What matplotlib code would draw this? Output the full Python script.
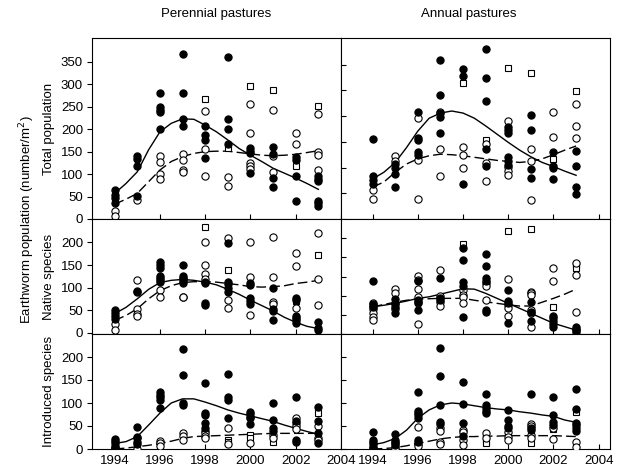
import matplotlib
matplotlib.use("Agg")
import matplotlib.pyplot as plt

plt.rcParams['font.family'] = ['Liberation Sans', 'DejaVu Sans']
plt.rcParams['font.size'] = 9.5

years = [1994, 1995, 1996, 1997, 1998, 1999, 2000, 2001, 2002, 2003]
curve_x = [1994, 1994.5, 1995, 1995.5, 1996, 1996.5, 1997, 1997.5, 1998, 1998.5,
           1999, 1999.5, 2000, 2000.5, 2001, 2001.5, 2002, 2002.5, 2003]

# ---- Total population, perennial ----
tl_filled = [[65, 54, 46, 35], [140, 133, 118, 52], [280, 250, 243, 238, 201], [367, 281, 222, 208],
             [208, 188, 175, 135], [361, 222, 200, 166], [158, 152, 146, 103], [161, 145, 91, 72],
             [139, 131, 96, 39], [95, 90, 84, 40, 35, 30]]
tl_open = [[18, 7], [42], [140, 126, 101, 90], [144, 131, 109, 104], [240, 156, 95], [94, 74],
           [256, 192, 124, 117, 112], [242, 140, 104], [191, 168], [234, 150, 142, 110]]
tl_square = [[], [], [], [], [267], [157], [297], [287], [117], [252]]
tl_solid = [57, 79, 105, 154, 194, 213, 223, 222, 209, 194, 176, 157, 142, 128, 113, 102, 91, 79, 66]
tl_dashed = [33, 44, 57, 83, 109, 128, 139, 146, 150, 151, 151, 148, 145, 142, 141, 142, 144, 148, 152]

# ---- Total population, annual ----
tr_filled = [[155, 84, 76, 68], [106, 100, 88, 63], [208, 158, 153, 131, 125], [309, 242, 206, 198, 168],
             [291, 279, 69], [330, 274, 229, 136, 104], [179, 174, 168, 120, 113, 105], [203, 173, 97, 79],
             [130, 104, 100, 77], [133, 104, 63, 48]]
tr_open = [[56, 38], [123, 112], [197, 115, 39], [208, 137, 83], [140, 124, 99], [146, 109, 73],
           [190, 101, 94, 85], [136, 113, 37], [208, 160], [224, 181, 157]]
tr_square = [[], [], [], [], [264], [154], [293], [283], [117], [248]]
tr_solid = [78, 91, 110, 139, 171, 196, 206, 210, 206, 196, 181, 165, 149, 134, 121, 110, 102, 93, 85]
tr_dashed = [62, 72, 91, 107, 117, 123, 126, 125, 123, 120, 117, 114, 112, 110, 112, 117, 125, 134, 142]

# ---- Native species, perennial ----
ml_filled = [[50, 44, 37, 30], [92, 90], [157, 150, 143, 126, 122, 117, 112], [149, 126, 120, 115, 110],
             [113, 109, 65, 62], [199, 113, 107, 100, 91], [109, 106, 77, 71, 64], [100, 53, 47, 29],
             [77, 72, 38, 33, 27, 22], [24, 10, 5]]
ml_open = [[20, 6], [117, 53, 42, 36], [94, 80], [121, 80, 78], [200, 150, 129, 118], [210, 72, 54],
           [201, 123, 40], [213, 123, 69, 64], [177, 147, 55], [222, 118, 62]]
ml_square = [[], [], [], [], [235], [138], [], [], [71], [173]]
ml_solid = [42, 56, 75, 96, 111, 116, 118, 116, 112, 106, 96, 85, 72, 60, 48, 34, 23, 14, 9]
ml_dashed = [27, 38, 53, 75, 93, 104, 111, 113, 113, 112, 109, 106, 102, 101, 102, 104, 109, 112, 116]

# ---- Native species, annual ----
mr_filled = [[138, 78, 70], [91, 82, 70, 54], [138, 89, 84, 63], [145, 93, 88], [224, 193, 135, 124, 45],
             [210, 178, 145, 138, 63, 58], [115, 86, 80, 28], [83, 57, 34], [48, 41, 34, 25, 19],
             [19, 14, 10, 6]]
mr_open = [[82, 73, 65, 56, 45, 37], [117, 106, 78, 66], [152, 141, 117, 97, 80, 25], [167, 100, 84, 72],
           [115, 102, 97, 80], [132, 124, 89], [144, 76, 67, 48], [110, 106, 101, 63, 54, 17],
           [173, 138], [185, 154, 58]]
mr_square = [[], [], [], [], [234], [135], [269], [273], [71], [180, 172]]
mr_solid = [71, 75, 80, 86, 93, 97, 104, 111, 118, 117, 106, 93, 80, 67, 54, 41, 28, 19, 10]
mr_dashed = [71, 77, 83, 88, 91, 92, 93, 93, 93, 88, 84, 80, 76, 73, 73, 83, 93, 104, 117]

# ---- Introduced species, perennial ----
bl_filled = [[22, 17, 12, 7, 3], [47, 27, 23, 15, 10], [125, 118, 114, 107, 89], [218, 161, 100, 95],
             [143, 78, 73, 56, 45], [163, 112, 107, 67], [80, 76, 70, 54], [100, 63, 45, 39],
             [112, 60, 20, 15], [92, 60, 34, 12]]
bl_open = [[2, 0], [1], [17, 12, 7], [34, 29, 20], [39, 34, 29, 25], [45, 10], [67, 14], [31, 25],
           [67, 56, 49, 44], [49, 25, 20]]
bl_square = [[], [], [], [], [], [20, 15], [31, 25], [15], [51], [78]]
bl_solid = [12, 16, 27, 52, 78, 100, 109, 109, 102, 94, 85, 78, 72, 66, 60, 52, 45, 38, 32]
bl_dashed = [0, 2, 5, 8, 12, 17, 23, 27, 28, 29, 30, 31, 32, 33, 34, 34, 34, 34, 34]

# ---- Introduced species, annual ----
br_filled = [[36, 20, 15, 10, 5, 2], [32, 20, 16, 12, 9], [123, 83, 78, 73, 68, 20, 15],
             [220, 158, 95, 58, 54], [146, 98, 56, 29], [119, 96, 89, 83, 78], [85, 63, 49, 45],
             [119, 45, 41], [112, 73, 58, 52], [130, 87, 56, 52, 45, 39]]
br_open = [[], [5, 1], [47, 10, 7], [45, 39, 15, 10], [42, 36, 20, 9], [34, 23], [38, 27, 20],
           [54, 49, 31, 23], [45, 22], [16, 5]]
br_square = [[], [], [], [], [32, 23], [17, 14], [32], [12], [49, 44], [80]]
br_solid = [9, 14, 23, 41, 67, 85, 96, 100, 98, 94, 90, 87, 85, 81, 78, 74, 71, 63, 58]
br_dashed = [0, 1, 3, 7, 12, 17, 22, 25, 27, 27, 28, 28, 29, 29, 29, 29, 29, 28, 27]

col_titles = ["Perennial pastures", "Annual pastures"]
row_labels = ["Total population", "Native species", "Introduced species"]
ylabel = "Earthworm population (number/m$^2$)"
xticks = [1994, 1996, 1998, 2000, 2002, 2004]

W, H = 625, 470
fig = plt.figure(figsize=(W / 100, H / 100), dpi=100)

def fx(px):
    return px / W

def fy(py):
    return 1 - py / H

col_px = [(92, 341), (341, 610)]
row_px = [(38, 219), (219, 334), (334, 449)]
xlims = [(1993, 2004), (1992.6, 2004.5)]
ylims = [[(0, 403), (0, 352)], [(-3, 252), (0, 300)], [(0, 250), (0, 250)]]
yticks = [[[0, 50, 100, 150, 200, 250, 300, 350], [0, 50, 100, 150, 200, 250, 300]],
          [[0, 50, 100, 150, 200], [0, 50, 100, 150, 200, 250]],
          [[0, 50, 100, 150, 200], [0, 50, 100, 150, 200]]]

panels = [[(tl_filled, tl_open, tl_square, tl_solid, tl_dashed),
           (tr_filled, tr_open, tr_square, tr_solid, tr_dashed)],
          [(ml_filled, ml_open, ml_square, ml_solid, ml_dashed),
           (mr_filled, mr_open, mr_square, mr_solid, mr_dashed)],
          [(bl_filled, bl_open, bl_square, bl_solid, bl_dashed),
           (br_filled, br_open, br_square, br_solid, br_dashed)]]

def expand(groups):
    xs, ys = [], []
    for yr, vals in zip(years, groups):
        for v in vals:
            xs.append(yr)
            ys.append(v)
    return xs, ys

for r in range(3):
    for c in range(2):
        x0, x1 = col_px[c]
        y0, y1 = row_px[r]
        ax = fig.add_axes([fx(x0), fy(y1), fx(x1) - fx(x0), (y1 - y0) / H])
        filled, opn, sq, solid, dashed = panels[r][c]
        ax.plot(curve_x, solid, color='black', lw=1.0, zorder=2)
        ax.plot(curve_x, dashed, color='black', lw=1.0, dashes=(7, 3), zorder=2)
        xs, ys = expand(sq)
        ax.plot(xs, ys, ls='none', marker='s', ms=4, mfc='white', mec='black', mew=0.8, zorder=3)
        xs, ys = expand(opn)
        ax.plot(xs, ys, ls='none', marker='o', ms=5.2, mfc='white', mec='black', mew=0.8, zorder=3)
        xs, ys = expand(filled)
        ax.plot(xs, ys, ls='none', marker='o', ms=5.2, mfc='black', mec='black', mew=0.8, zorder=4)
        ax.set_xlim(*xlims[c])
        ax.set_ylim(*ylims[r][c])
        ax.set_xticks(xticks)
        ax.set_yticks(yticks[r][c])
        for s in ax.spines.values():
            s.set_linewidth(0.8)
        ax.tick_params(axis='x', direction='in', length=3.5, width=0.8, labelsize=9.5, pad=4)
        if r < 2:
            ax.tick_params(axis='x', labelbottom=False)
        if c == 0:
            ax.tick_params(axis='y', direction='out', length=3.5, width=0.8, labelsize=9.5, pad=3)
        else:
            ax.tick_params(axis='y', direction='in', length=3.5, width=0.8, labelleft=False)

fig.text(fx(216.5), fy(14), col_titles[0], ha='center', va='center', fontsize=9.5)
fig.text(fx(469), fy(14), col_titles[1], ha='center', va='center', fontsize=9.5)
for (y0, y1), lab in zip(row_px, row_labels):
    fig.text(fx(49), fy((y0 + y1) / 2), lab, rotation=90, ha='center', va='center', fontsize=9.5)
fig.text(fx(27), fy(220), ylabel, rotation=90, ha='center', va='center', fontsize=9.5)

fig.savefig("out.png", dpi=100)
